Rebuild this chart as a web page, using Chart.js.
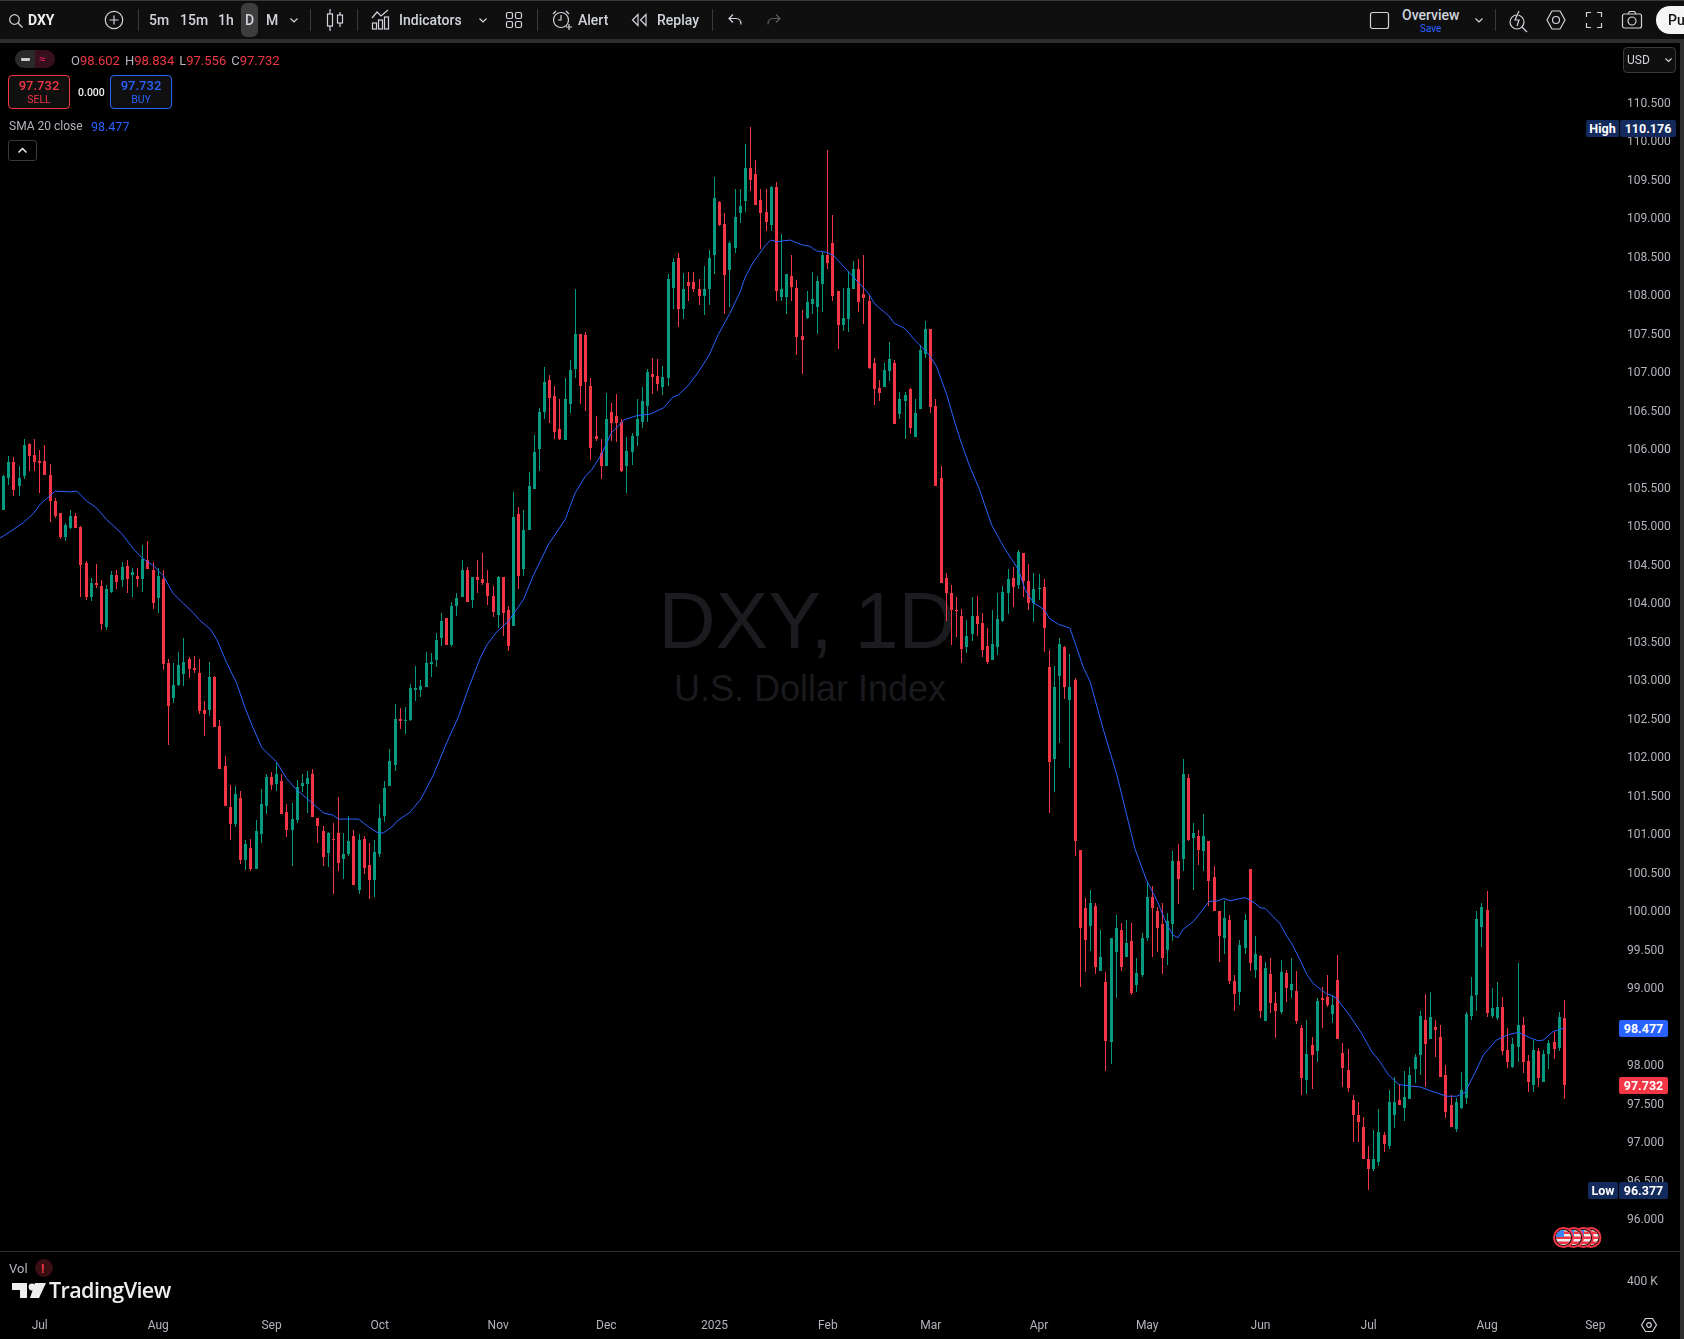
<!DOCTYPE html>
<html>
<head>
<meta charset="utf-8">
<title>DXY, 1D</title>
<script src="https://cdn.jsdelivr.net/npm/chart.js@4/dist/chart.umd.min.js"></script>
<style>
html, body { margin: 0; background: #000; }
body { position: relative; width: 1684px; height: 1339px; overflow: hidden; font-family: Roboto, sans-serif; color: #d1d4dc; }
#chart { position: absolute; left: 0; top: 0; z-index: 1; }
.wm { position: absolute; left: 0; width: 1620px; text-align: center; font-family: "Liberation Sans", sans-serif; z-index: 0; transform: translateY(-50%); white-space: nowrap; }
.ui { position: absolute; z-index: 2; }
.t { position: absolute; z-index: 3; transform: translateY(-50%); white-space: nowrap; font-size: 14px; }
.sep { position: absolute; z-index: 3; width: 1px; top: 9px; height: 22px; background: #3a3a3a; }
svg { position: absolute; z-index: 3; fill: none; stroke: #d1d4dc; stroke-width: 1.2; overflow: visible; }
.red { color: #f23645; }
.axis { color: #b2b5be; font-size: 12px; }
.tag { position: absolute; z-index: 3; color: #fff; font-size: 12.5px; font-weight: 700; text-align: center; line-height: 17px; height: 17px; border-radius: 2px; }
</style>
</head>
<body>

<!-- frame -->
<div class="ui" style="left:0;top:0;width:1684px;height:39px;background:#0f0f0f;border-top:1px solid #3a3a3a;box-sizing:border-box"></div>
<div class="ui" style="left:0;top:39px;width:1684px;height:4px;background:#2e2e2e"></div>
<div class="ui" style="left:1680px;top:39px;width:4px;height:1300px;background:#2e2e2e"></div>
<div class="ui" style="left:0;top:1251px;width:1680px;height:1px;background:#2f2f3a"></div>

<!-- watermark -->
<div class="wm" style="left:-3px;top:621px;font-size:79px;color:#1c1c20">DXY, 1D</div>
<div class="wm" style="top:689px;font-size:36px;color:#1a1a1e">U.S. Dollar Index</div>

<!-- toolbar left -->
<svg style="left:9px;top:14px" width="14" height="14"><circle cx="5.5" cy="5.5" r="4.8"/><path d="M9 9l4.5 4.5"/></svg>
<span class="t" style="left:28px;top:20px;font-weight:700;color:#eee">DXY</span>
<svg style="left:105px;top:11px" width="18" height="18"><circle cx="9" cy="9" r="8.7"/><path d="M9 4.5v9M4.5 9h9"/></svg>
<div class="sep" style="left:138px"></div>
<span class="t" style="left:149px;top:20px;font-weight:500">5m</span>
<span class="t" style="left:180px;top:20px;font-weight:500">15m</span>
<span class="t" style="left:218px;top:20px;font-weight:500">1h</span>
<div class="ui" style="left:241px;top:3px;width:17px;height:34px;background:#3d3d3d;border-radius:6px;z-index:2"></div>
<span class="t" style="left:245px;top:20px;font-weight:500">D</span>
<span class="t" style="left:266px;top:20px;font-weight:500">M</span>
<svg style="left:290px;top:18px" width="8" height="5"><path d="M0.5 0.5l3.5 3.5l3.5-3.5"/></svg>
<div class="sep" style="left:310px"></div>
<svg style="left:327px;top:9px" width="16" height="22"><path d="M3 0v22M13 3v15"/><rect x="0.5" y="5" width="5" height="12" fill="#0f0f0f"/><rect x="10.5" y="6" width="5" height="8" fill="#0f0f0f"/></svg>
<div class="sep" style="left:357px"></div>
<svg style="left:372px;top:10px" width="18" height="20"><path d="M0 8l5-6l4 4l7-6"/><rect x="0.5" y="13" width="4" height="6"/><rect x="6.5" y="10" width="4" height="9"/><rect x="12.5" y="7" width="4" height="12"/></svg>
<span class="t" style="left:399px;top:20px;font-weight:500">Indicators</span>
<svg style="left:479px;top:18px" width="8" height="5"><path d="M0.5 0.5l3.5 3.5l3.5-3.5"/></svg>
<svg style="left:506px;top:12px" width="16" height="16"><rect x="0.5" y="0.5" width="6" height="6" rx="1.5"/><rect x="9.5" y="0.5" width="6" height="6" rx="1.5"/><rect x="0.5" y="9.5" width="6" height="6" rx="1.5"/><rect x="9.5" y="9.5" width="6" height="6" rx="1.5"/></svg>
<div class="sep" style="left:537px"></div>
<svg style="left:552px;top:10px" width="20" height="20"><circle cx="9" cy="10" r="7.5"/><path d="M9 5v5h-3M1 4l3-3M17 4l-3-3M14 17h6M17 14v6"/></svg>
<span class="t" style="left:578px;top:20px;font-weight:500">Alert</span>
<svg style="left:632px;top:14px" width="15" height="12"><path d="M6 0.5l-5.5 5.5l5.5 5.5zM14 0.5l-5.5 5.5l5.5 5.5z"/></svg>
<span class="t" style="left:657px;top:20px;font-weight:500">Replay</span>
<div class="sep" style="left:712px"></div>
<svg style="left:728px;top:14px" width="15" height="12"><path d="M5 0.5l-4 4l4 4M1 4.5h7c3 0 5 2 5 6"/></svg>
<svg style="left:766px;top:14px;stroke:#5d5d5d" width="15" height="12"><path d="M10 0.5l4 4l-4 4M14 4.5h-7c-3 0-5 2-5 6"/></svg>

<!-- toolbar right -->
<svg style="left:1370px;top:12px" width="18" height="18"><rect x="0.5" y="0.5" width="18" height="16" rx="2"/></svg>
<span class="t" style="left:1402px;top:15px;font-weight:500">Overview</span>
<span class="t" style="left:1420px;top:28px;font-size:10px;color:#2962ff">Save</span>
<svg style="left:1475px;top:18px" width="8" height="5"><path d="M0.5 0.5l3.5 3.5l3.5-3.5"/></svg>
<div class="sep" style="left:1495px"></div>
<svg style="left:1509px;top:10px" width="20" height="22"><circle cx="8" cy="12" r="7"/><path d="M13 17l5 5"/><path d="M10 1l-4 9h4l-2 6" fill="#0f0f0f"/></svg>
<svg style="left:1546px;top:10px" width="20" height="20"><path d="M6 1h8l5 9l-5 9h-8l-5-9z"/><circle cx="10" cy="10" r="3.5"/></svg>
<svg style="left:1586px;top:12px" width="16" height="16"><path d="M0.5 5V0.5H5M11 0.5h4.5V5M15.5 11v4.5H11M5 15.5H0.5V11"/></svg>
<svg style="left:1622px;top:11px" width="20" height="18"><rect x="0.5" y="3" width="19" height="14" rx="2"/><circle cx="10" cy="10" r="4"/><path d="M6 3l1.5-2.5h5l1.5 2.5"/></svg>
<div class="ui" style="left:1656px;top:6px;width:40px;height:28px;background:#f5f5f5;border-radius:14px 0 0 14px;z-index:3"></div>
<span class="t" style="left:1668px;top:20px;color:#111;font-weight:500">Pu</span>

<!-- legend -->
<div class="ui" style="left:15px;top:50px;width:20px;height:18px;background:#2a2a2a;border-radius:9px 0 0 9px"></div>
<div class="ui" style="left:35px;top:50px;width:20px;height:18px;background:#36101c;border-radius:0 9px 9px 0"></div>
<div class="ui" style="left:21px;top:58px;width:9px;height:3px;background:#ccc;border-radius:1px"></div>
<span class="t" style="left:39px;top:59px;font-size:12px;color:#e91e63">≈</span>
<span class="t" style="left:71px;top:60px;font-size:13px;color:#b2b5be;word-spacing:1.8px">O<span class="red">98.602</span> H<span class="red">98.834</span> L<span class="red">97.556</span> C<span class="red">97.732</span></span>

<div class="ui" style="left:8px;top:75px;width:62px;height:34px;box-sizing:border-box;border:1px solid #f23645;border-radius:4px;background:#101010"></div>
<span class="t red" style="left:8px;width:62px;text-align:center;top:85px;font-size:13px;font-weight:500">97.732</span>
<span class="t red" style="left:8px;width:62px;text-align:center;top:99px;font-size:10.5px">SELL</span>
<span class="t" style="left:78px;top:92px;font-size:10.5px;color:#eee;font-weight:500">0.000</span>
<div class="ui" style="left:110px;top:75px;width:62px;height:34px;box-sizing:border-box;border:1px solid #2962ff;border-radius:4px;background:#101010"></div>
<span class="t" style="left:110px;width:62px;text-align:center;top:85px;font-size:13px;font-weight:500;color:#2962ff">97.732</span>
<span class="t" style="left:110px;width:62px;text-align:center;top:99px;font-size:10.5px;color:#2962ff">BUY</span>

<span class="t" style="left:9px;top:126px;font-size:12px;color:#b2b5be">SMA 20 close</span>
<span class="t" style="left:91px;top:126px;font-size:12.5px;color:#2962ff">98.477</span>
<div class="ui" style="left:8px;top:140px;width:29px;height:21px;box-sizing:border-box;border:1px solid #3a3a3a;border-radius:3px"></div>
<svg style="left:18px;top:148px;stroke-width:1.5;stroke:#eee" width="9" height="5"><path d="M0.5 4.5l4-4l4 4"/></svg>

<!-- price tags -->
<div class="ui" style="left:1623px;top:47px;width:53px;height:26px;box-sizing:border-box;border:1px solid #3a3a3a;border-radius:4px;background:#0f0f0f"></div>
<span class="t" style="left:1627px;top:60px;font-size:12px">USD</span>
<svg style="left:1665px;top:58px" width="7" height="4"><path d="M0.5 0.5l3 3l3-3"/></svg>
<div class="tag" style="left:1586px;top:120px;width:33px;background:#132a5c">High</div>
<div class="tag" style="left:1620px;top:120px;width:56px;background:#132a5c">110.176</div>
<div class="tag" style="left:1619px;top:1020px;width:49px;background:#2962ff">98.477</div>
<div class="tag" style="left:1619px;top:1077px;width:49px;background:#f23645">97.732</div>
<div class="tag" style="left:1588px;top:1182px;width:30px;background:#132a5c">Low</div>
<div class="tag" style="left:1619px;top:1182px;width:49px;background:#132a5c">96.377</div>

<!-- event flags -->
<svg style="left:1553px;top:1227px;stroke:none" width="50" height="22">
  <defs>
    <clipPath id="flagClip"><circle cx="10.5" cy="10.5" r="7.5"/></clipPath>
    <g id="usFlag">
      <circle cx="10.5" cy="10.5" r="9.5" fill="#111" stroke="#f23645" stroke-width="2"/>
      <g clip-path="url(#flagClip)">
        <rect x="2" y="2" width="18" height="17" fill="#eee"/>
        <rect x="2" y="4.5" width="18" height="2.5" fill="#f23645"/>
        <rect x="2" y="9.5" width="18" height="2.5" fill="#f23645"/>
        <rect x="2" y="14.5" width="18" height="2.5" fill="#f23645"/>
        <rect x="2" y="2" width="9" height="8" fill="#3b82f6"/>
      </g>
    </g>
  </defs>
  <use href="#usFlag" x="27.5"/><use href="#usFlag" x="20"/><use href="#usFlag" x="10"/><use href="#usFlag" x="0"/>
</svg>

<!-- volume pane -->
<span class="t" style="left:9px;top:1268px;font-size:13px;color:#b2b5be">Vol</span>
<div class="ui" style="left:35px;top:1259px;width:18px;height:18px;border-radius:9px;background:#3a0f14"></div>
<span class="t red" style="left:41px;top:1268px;font-size:13px;font-weight:700">!</span>
<svg style="left:12px;top:1283px;stroke:none;fill:#eee" width="34" height="16">
  <path d="M0 0h15v15h-7V7H0zM23 0h11l-7 15h-9z"/><circle cx="20" cy="4" r="3.4"/>
</svg>
<span class="t" style="left:49px;top:1289px;font-size:21.5px;font-weight:600;color:#eee;font-family:'Open Sans',sans-serif;letter-spacing:-0.6px">TradingView</span>
<span class="t axis" style="left:1627px;top:1281px">400 K</span>
<svg style="left:1641px;top:1318px" width="16" height="14"><path d="M4.5 0.5h7l4 6.5l-4 6.5h-7l-4-6.5z"/><circle cx="8" cy="7" r="2.3"/></svg>

<canvas id="chart" width="1684" height="1339"></canvas>

<script>
/* ---------------------------
   Daily candles, oldest first
---------------------------- */
const opens = [
    105.20,105.62,105.83,105.51,105.65,106.06,105.92,105.84,105.84,105.66,
    105.32,105.17,104.86,104.97,105.12,104.99,104.52,104.08,104.25,104.22,
    103.69,104.14,104.36,104.30,104.48,104.36,104.35,104.31,104.56,104.43,
    104.06,104.31,103.22,102.76,102.93,103.08,103.27,103.15,103.09,102.61,
    102.61,103.04,102.40,101.88,101.35,101.12,101.47,100.66,100.82,100.54,
    100.99,101.36,101.74,101.65,101.69,101.28,101.05,101.18,101.62,101.65,
    101.78,101.21,101.04,100.75,100.93,101.01,100.67,100.73,100.97,100.27,
    100.93,100.60,100.40,100.73,101.23,101.62,101.89,102.49,102.46,102.48,
    102.87,102.87,102.91,103.20,103.25,103.54,103.80,103.45,103.96,104.08,
    104.43,104.04,104.33,104.31,104.25,104.09,103.84,104.33,103.91,103.70,
    105.15,104.44,104.94,105.48,106.00,106.48,106.89,106.68,106.26,106.11,
    106.58,107.04,107.49,107.48,106.82,106.16,105.95,105.77,106.48,106.43,
    106.35,105.78,105.96,106.17,106.35,106.56,106.97,106.95,106.80,106.92,
    108.09,108.48,107.81,108.16,108.17,108.08,107.99,108.08,108.51,109.21,
    108.92,108.32,108.61,109.06,109.22,109.64,109.57,109.23,109.08,108.91,
    109.40,107.97,107.97,108.25,108.09,107.47,107.70,107.88,107.84,108.14,
    108.51,108.67,108.05,107.61,107.69,108.08,108.34,108.01,107.92,107.12,
    106.79,106.80,107.01,107.12,106.45,106.62,106.77,106.15,106.52,107.23,
    107.56,106.56,105.62,104.32,104.12,103.91,103.83,103.42,103.60,103.83,
    103.74,103.44,103.26,103.42,103.76,104.13,104.32,104.23,104.64,104.28,
    104.00,104.18,104.21,103.16,101.97,103.05,103.43,102.74,102.99,100.79,
    100.03,99.80,100.06,99.22,99.08,98.29,99.47,99.75,99.40,99.61,
    99.03,99.16,99.65,100.18,100.00,99.83,99.49,99.83,100.65,100.67,
    101.73,100.95,100.97,100.77,100.91,100.44,99.99,99.64,99.88,99.09,
    98.95,99.52,100.54,99.23,99.41,98.57,99.18,98.80,98.69,99.19,
    98.97,98.96,98.47,97.80,98.26,98.18,98.87,98.88,98.66,99.10,
    98.15,97.93,97.54,97.34,97.19,96.78,96.64,96.74,97.09,96.95,
    97.35,97.54,97.44,97.56,97.95,98.13,98.58,98.34,98.49,98.36,
    97.87,97.48,97.17,97.44,97.57,98.63,98.91,99.79,100.01,98.63,
    98.61,98.75,98.19,97.97,98.23,98.51,98.05,97.74,98.18,97.78,
    98.14,98.30,98.22,98.602
];
const highs = [
    105.66,105.91,105.89,105.78,106.13,106.08,106.13,105.99,106.05,105.80,
    105.36,105.17,105.04,105.21,105.17,105.00,104.54,104.32,104.50,104.30,
    104.23,104.41,104.43,104.53,104.56,104.45,104.45,104.75,104.80,104.53,
    104.45,104.43,103.27,103.22,103.36,103.54,103.30,103.31,103.27,102.73,
    103.23,103.05,102.48,102.01,101.63,101.62,101.56,100.92,100.93,101.18,
    101.58,101.78,101.80,101.93,101.78,101.38,101.40,101.70,101.77,101.82,
    101.84,101.21,101.10,101.02,101.14,101.48,101.01,101.23,101.05,101.00,
    100.97,100.88,100.92,101.39,101.69,102.10,102.69,102.63,102.64,102.94,
    103.18,102.99,103.36,103.35,103.61,103.87,103.80,104.01,104.13,104.56,
    104.46,104.34,104.56,104.64,104.43,104.22,104.35,104.33,103.96,105.44,
    105.24,105.20,105.70,106.18,106.53,107.06,106.96,106.82,106.64,106.92,
    107.15,108.07,107.49,107.51,106.92,106.42,106.13,106.73,106.60,106.71,
    106.38,106.15,106.21,106.64,106.80,107.04,107.18,107.17,107.07,108.27,
    108.48,108.54,108.28,108.30,108.30,108.21,108.38,108.58,109.53,109.22,
    109.06,108.70,109.38,109.38,109.96,110.176,109.75,109.38,109.38,109.41,
    109.47,108.79,108.27,108.51,108.19,107.80,108.05,108.30,108.25,108.56,
    109.88,109.04,108.05,108.09,108.31,108.44,108.47,108.52,108.00,107.18,
    106.89,107.12,107.38,107.15,106.74,106.74,106.79,106.65,107.35,107.66,
    107.56,106.65,105.78,104.39,104.23,104.07,103.92,103.78,104.08,104.09,
    103.87,103.67,103.91,104.13,104.22,104.44,104.47,104.69,104.65,104.50,
    104.39,104.37,104.31,103.38,103.18,103.54,103.44,103.34,103.02,100.79,
    100.17,100.27,100.10,99.75,99.21,99.65,99.95,99.84,99.88,99.84,
    99.38,99.71,100.39,100.32,100.05,100.10,99.97,100.77,100.87,101.97,
    101.77,101.14,101.05,101.26,100.91,100.58,100.00,100.12,99.95,99.17,
    99.62,99.96,100.54,99.67,99.43,99.34,99.39,98.95,99.36,99.23,
    99.39,99.22,98.52,98.58,98.36,98.87,99.01,99.16,98.90,99.43,
    98.28,98.21,97.61,97.51,97.32,96.95,97.15,97.43,97.12,97.67,
    97.84,97.75,97.92,97.97,98.14,98.70,98.92,98.95,98.58,98.51,
    98.00,97.61,97.57,97.91,98.69,99.14,99.99,100.10,100.26,98.99,
    99.08,98.88,98.48,98.35,99.32,98.62,98.13,98.32,98.22,98.19,
    98.32,98.43,98.69,98.834
];
const lows = [
    105.20,105.53,105.38,105.38,105.61,105.71,105.71,105.43,105.66,105.05,
    105.10,104.83,104.80,104.96,104.97,104.08,104.04,104.02,104.19,103.65,
    103.65,104.13,104.18,104.21,104.12,104.08,104.21,104.14,104.44,103.92,
    103.87,103.13,102.15,102.70,102.92,102.92,103.02,103.09,102.56,102.27,
    102.53,102.39,101.84,101.36,100.92,101.09,100.61,100.53,100.52,100.54,
    100.88,101.25,101.57,101.56,101.25,100.96,100.58,101.14,101.54,101.27,
    101.22,100.88,100.58,100.57,100.22,100.52,100.41,100.71,100.34,100.22,
    100.48,100.15,100.18,100.70,101.15,101.62,101.82,102.36,102.30,102.47,
    102.73,102.77,102.91,103.04,103.17,103.44,103.45,103.43,103.83,104.08,
    104.01,103.93,104.12,104.23,103.97,103.82,103.67,103.57,103.37,103.70,
    104.18,104.35,104.94,105.48,105.71,106.38,106.34,106.13,106.12,106.11,
    106.47,106.92,106.58,106.49,105.86,106.10,105.61,105.77,106.10,106.09,
    105.70,105.42,105.79,106.04,106.27,106.35,106.71,106.75,106.70,106.82,
    107.82,107.58,107.69,107.92,108.03,107.87,107.74,107.87,108.27,108.89,
    107.75,107.84,108.54,108.93,109.08,109.35,109.17,108.60,108.83,108.83,
    107.92,107.92,107.75,107.92,107.22,106.97,107.69,107.75,107.49,107.78,
    108.34,107.92,107.30,107.53,107.52,108.08,107.78,107.62,107.04,106.57,
    106.62,106.80,106.88,106.32,106.38,106.13,106.19,106.15,106.52,107.18,
    106.47,105.52,104.26,103.76,103.45,103.56,103.22,103.35,103.50,103.57,
    103.30,103.20,103.26,103.32,103.75,103.85,103.95,104.18,104.07,103.90,
    103.75,104.03,103.36,101.27,101.54,102.18,102.75,101.85,100.71,99.01,
    99.21,99.48,99.18,99.22,97.92,98.01,98.87,99.22,99.40,98.91,
    98.95,99.14,99.61,99.40,99.47,99.18,99.29,99.61,100.09,100.51,
    100.91,100.27,100.60,100.52,100.06,100.00,99.34,99.44,99.05,98.70,
    98.78,99.44,99.22,99.13,98.61,98.57,98.67,98.35,98.66,98.82,
    98.87,98.53,97.61,97.62,97.69,98.03,98.48,98.75,98.54,98.34,
    97.71,97.65,97.00,97.00,96.77,96.377,96.62,96.69,96.86,96.90,
    97.18,97.47,97.27,97.56,97.76,97.86,97.71,98.34,98.10,97.84,
    97.31,97.19,97.12,97.43,97.49,98.58,98.70,99.53,98.62,98.60,
    98.58,98.13,97.96,97.96,98.04,97.89,97.64,97.64,97.71,97.78,
    97.95,98.08,98.18,97.556
];
const closes = [
    105.65,105.83,105.47,105.62,106.05,105.91,105.83,105.82,105.66,105.32,
    105.12,104.86,105.01,105.12,104.97,104.49,104.08,104.26,104.23,103.73,
    104.18,104.36,104.27,104.47,104.31,104.40,104.31,104.57,104.44,104.00,
    104.35,103.21,102.66,102.93,103.19,103.23,103.14,103.12,102.60,102.56,
    103.04,102.39,101.84,101.36,101.13,101.52,100.66,100.86,100.54,101.04,
    101.38,101.74,101.63,101.78,101.26,101.05,101.19,101.61,101.66,101.73,
    101.22,101.10,100.70,101.01,100.92,100.62,100.74,100.91,100.34,100.92,
    100.56,100.40,100.76,101.21,101.60,101.95,102.49,102.47,102.48,102.89,
    102.89,102.92,103.22,103.23,103.52,103.76,103.45,103.96,104.06,104.43,
    104.01,104.33,104.29,104.26,104.09,103.88,104.33,103.87,103.44,105.11,
    104.35,104.95,105.52,105.96,106.48,106.87,106.66,106.22,106.13,106.64,
    107.02,107.49,106.82,106.87,106.01,106.13,105.77,106.38,106.33,106.34,
    105.71,105.97,106.17,106.38,106.62,107.00,106.93,106.84,106.93,108.21,
    108.43,107.81,108.08,108.11,108.07,107.99,108.08,108.48,109.26,108.90,
    108.26,108.67,109.01,109.15,109.64,109.49,109.17,109.06,108.95,109.40,
    108.05,108.08,108.27,108.10,107.45,107.41,107.91,107.95,108.18,108.51,
    108.41,107.99,107.61,107.70,108.09,108.34,107.91,107.96,107.05,106.78,
    106.73,107.02,107.17,106.32,106.64,106.70,106.27,106.47,107.28,107.56,
    106.54,105.52,104.26,104.12,103.90,103.90,103.40,103.57,103.83,103.72,
    103.39,103.23,103.47,103.79,104.14,104.31,104.21,104.66,104.28,104.00,
    104.18,104.19,103.67,101.93,102.90,103.47,102.90,102.91,100.91,99.78,
    99.62,100.10,99.27,99.40,98.31,99.65,99.78,99.27,99.58,98.93,
    99.19,99.64,100.18,100.03,99.77,99.39,99.87,100.64,100.41,101.78,
    100.92,101.01,100.79,100.97,100.38,100.00,99.67,99.90,99.09,98.92,
    99.56,99.88,99.32,99.44,98.70,99.25,98.80,98.70,99.21,99.00,
    99.05,98.57,97.83,98.14,98.13,98.83,98.84,98.78,98.78,98.34,
    97.96,97.70,97.34,97.25,96.78,96.65,96.78,97.13,96.97,97.52,
    97.52,97.47,97.58,97.87,98.10,98.63,98.27,98.62,98.45,97.84,
    97.39,97.19,97.52,97.67,98.66,98.89,99.89,100.05,98.67,98.73,
    98.75,98.18,98.04,98.27,98.51,98.04,97.78,98.19,97.83,98.14,
    98.28,98.21,98.62,97.732
];

/* ---------------------------
---------------------------- */
const smaDays = [
    0.3,2.2,4.8,6.8,8.1,10,11,13.9,15.2,17.1,18.9,21,23.9,26.2,27.9,30.1,32,33.9,35.9,37.8,
    39.1,41.1,42.4,44.3,46.2,47.9,49.2,51.1,54,55.9,57.6,59.8,63.1,65,66,69.9,71.8,73.7,74.7,76.6,
    77.3,79.9,82,84.4,87,89.3,91.2,93.5,94.8,96.7,99,101.9,103.8,106.7,110,111.9,113.9,115.2,117.1,119,
    121.6,123.9,126.5,129.1,130.9,132,133.9,135.9,138,139.7,142,144,144.9,146.5,147.8,149,149.9,151.1,153.7,155.9,
    157.5,158.8,160.8,162.1,165,166.9,168.9,170,170.8,172.8,173.9,176,177.9,180.8,182.1,184.1,185.7,187,188.6,190.4,
    192.8,195.1,198,199.3,200.9,203,204.1,205.8,208,209.3,210.6,211.9,214.5,217.1,219,220.6,222.9,225,226.8,228.1,
    229,230,232,235,236.8,237.9,239.1,242,243.9,244.9,245.9,248.8,250.1,251,252.7,254,255.3,257.8,258.8,259.8,
    262.2,264.5,266.6,268.2,269.8,271.9,276,278.5,281.1,283.1,284.7,286.3,288.3,290.8,293.1,295.1,297.3,298.9,299.9,301.8,
    304
];
const smaValues = [
    104.84,104.92,105.04,105.16,105.28,105.39,105.45,105.44,105.45,105.32,105.24,105.08,104.90,104.70,104.58,104.48,104.35,104.12,103.99,103.87,
    103.77,103.66,103.52,103.22,102.96,102.63,102.41,102.12,101.93,101.72,101.59,101.46,101.27,101.24,101.19,101.19,101.09,101.01,101.01,101.10,
    101.16,101.28,101.45,101.76,102.18,102.52,102.88,103.28,103.45,103.62,103.76,104.04,104.35,104.75,105.08,105.42,105.64,105.73,105.93,106.21,
    106.38,106.43,106.45,106.53,106.67,106.70,106.82,107.00,107.22,107.48,107.76,108.04,108.22,108.42,108.54,108.65,108.71,108.69,108.71,108.65,
    108.63,108.57,108.55,108.51,108.30,108.16,108.02,107.89,107.84,107.73,107.63,107.56,107.41,107.21,107.07,106.70,106.33,106.06,105.76,105.48,
    105.01,104.73,104.43,104.17,104.00,103.91,103.79,103.72,103.67,103.42,103.16,102.98,102.35,101.77,101.25,100.81,100.39,100.12,99.82,99.68,
    99.65,99.76,99.86,100.12,100.13,100.16,100.13,100.17,100.10,100.04,100.03,99.83,99.67,99.58,99.36,99.17,99.05,98.92,98.90,98.86,
    98.65,98.42,98.17,98.04,97.87,97.74,97.71,97.65,97.59,97.59,97.64,97.85,98.13,98.32,98.39,98.42,98.35,98.31,98.32,98.43,
    98.477
];

/* ---------------------------
   Axis ticks
---------------------------- */
const priceTicks = [96,96.5,97,97.5,98,98.5,99,99.5,100,100.5,101,101.5,102,102.5,103,103.5,104,104.5,105,105.5,106,106.5,107,107.5,108,108.5,109,109.5,110,110.5];
const monthLabels = ["Jul","Aug","Sep","Oct","Nov","Dec","2025","Feb","Mar","Apr","May","Jun","Jul","Aug","Sep"];
const monthDays = [8,31,53,74,97,118,139,161,181,202,223,245,266,289,310];

const UP = "#089981";
const DOWN = "#f23645";

const days = opens.map((_, i) => i + 1);
const candleColors = opens.map((o, i) => closes[i] >= o ? UP : DOWN);

// keep the bars on whole pixels, the way the original draws them
const snapBars = {
    id: "snapBars",
    beforeDatasetsDraw(chart) {
        chart.getSortedVisibleDatasetMetas().forEach(meta => {
            if (meta.type !== "bar") return;
            meta.data.forEach(bar => {
                bar.x = Math.floor(bar.x) + 0.5;
                bar.y = Math.round(bar.y);
                bar.base = Math.round(bar.base);
                if (bar.base === bar.y) bar.base = bar.y + 1;
            });
        });
    }
};

new Chart(document.getElementById("chart").getContext("2d"), {
    type: "bar",
    data: {
        datasets: [
            {
                type: "line",
                label: "SMA 20 close",
                data: smaDays.map((d, i) => ({ x: d, y: smaValues[i] })),
                borderColor: "#2962ff",
                borderWidth: 1,
                pointRadius: 0,
                tension: 0
            },
            {
                label: "Body",
                data: days.map((d, i) => ({ x: d, y: [opens[i], closes[i]] })),
                backgroundColor: candleColors,
                barThickness: 3,
                grouped: false,
                inflateAmount: 0
            },
            {
                label: "Wick",
                data: days.map((d, i) => ({ x: d, y: [lows[i], highs[i]] })),
                backgroundColor: candleColors,
                barThickness: 1,
                grouped: false,
                inflateAmount: 0
            }
        ]
    },
    options: {
        responsive: false,
        animation: false,
        layout: { padding: { top: 43 } },
        plugins: {
            legend: { display: false },
            tooltip: { enabled: false }
        },
        scales: {
            x: {
                type: "linear",
                offset: false,
                min: 0.29,
                max: 315.18,
                grid: { display: false, drawTicks: false },
                border: { display: false },
                afterFit: scale => {
                    scale.height = 88;
                    // tick padding would otherwise eat into the plot width
                    scale.paddingLeft = 0;
                    scale.paddingRight = 0;
                },
                afterBuildTicks: scale => { scale.ticks = monthDays.map(value => ({ value })); },
                ticks: {
                    autoSkip: false,
                    maxRotation: 0,
                    padding: 68,
                    color: "#b2b5be",
                    font: { family: "Roboto", size: 12 },
                    callback: (value, i) => monthLabels[i]
                }
            },
            y: {
                position: "right",
                min: 95.58,
                max: 111.27,
                grid: { display: false, drawTicks: false },
                border: { display: false },
                afterFit: scale => {
                    scale.width = 62;
                    scale.paddingTop = 0;
                    scale.paddingBottom = 0;
                },
                afterBuildTicks: scale => { scale.ticks = priceTicks.map(value => ({ value })); },
                ticks: {
                    crossAlign: "near",
                    padding: 5,
                    labelOffset: 1.5,
                    color: "#b2b5be",
                    font: { family: "Roboto", size: 12 },
                    callback: value => value.toFixed(3)
                }
            }
        }
    },
    plugins: [snapBars]
});
</script>
</body>
</html>
